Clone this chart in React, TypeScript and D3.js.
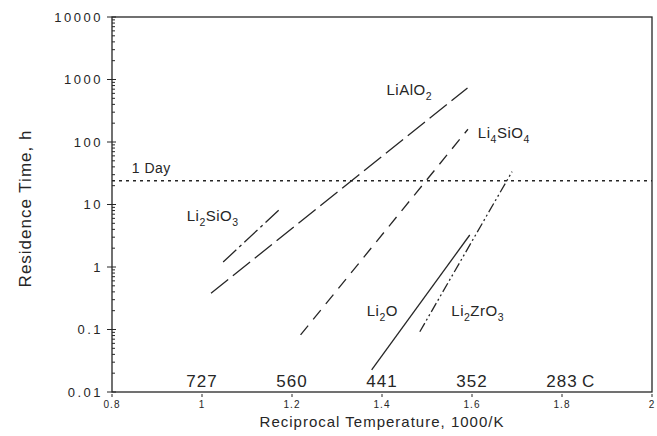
import * as d3 from "d3";

// residence time lines, [1000/K, hours]
const liAlO2 = [
  [1.02, 0.38],
  [1.59, 730],
];
const li2SiO3 = [
  [1.047, 1.2],
  [1.171, 8.2],
];
const li4SiO4 = [
  [1.219, 0.082],
  [1.591, 160],
];
const li2O = [
  [1.377, 0.0225],
  [1.595, 3.25],
];
const li2ZrO3 = [
  [1.484, 0.092],
  [1.689, 33.5],
];
const oneDay = 24;

const xTicks = [0.8, 1, 1.2, 1.4, 1.6, 1.8, 2];
const xTickLabels = ["0.8", "1", "1.2", "1.4", "1.6", "1.8", "2"];
const yTicks = [0.01, 0.1, 1, 10, 100, 1000, 10000];
const yTickLabels = ["0.01", "0.1", "1", "10", "100", "1000", "10000"];
const tempLabels = ["727", "560", "441", "352", "283"];
const tempPositions = [1.0, 1.2, 1.4, 1.6, 1.8];

const W = 657;
const H = 436;
const margin = { top: 17, right: 3, bottom: 44, left: 112 };
const ink = "#262626";
const font = "'Liberation Sans', Arial, sans-serif";

export default function App() {
  const x = d3
    .scaleLinear()
    .domain([0.8, 2])
    .range([margin.left, W - margin.right - 2]);
  const y = d3
    .scaleLog()
    .domain([0.01, 10000])
    .range([H - margin.bottom, margin.top]);

  const line = d3
    .line<number[]>()
    .x((d) => x(d[0]))
    .y((d) => y(d[1]));

  const series = [
    { data: liAlO2, dash: "22,6" },
    { data: li2SiO3, dash: "18,4,3,4" },
    { data: li4SiO4, dash: "12,8" },
    { data: li2O, dash: "none" },
    { data: li2ZrO3, dash: "10,3,2,3,2,3" },
  ];

  const minorTicks: number[] = [];
  for (let e = -2; e < 4; e++) {
    for (let m = 2; m <= 9; m++) minorTicks.push(m * Math.pow(10, e));
  }

  const x0 = x(0.8);
  const x1 = x(2);
  const yb = y(0.01);
  const yt = y(10000);

  // formula label: alternating normal / subscript pieces
  const chem = (parts: string[], px: number, py: number, size = 15) => {
    const spans = [];
    let shift = 0;
    parts.forEach((p, i) => {
      const sub = i % 2 === 1;
      const target = sub ? 5 : 0;
      spans.push(
        <tspan key={i} dy={target - shift} fontSize={sub ? size * 0.7 : size}>
          {p}
        </tspan>
      );
      shift = target;
    });
    return (
      <text x={px} y={py} fontSize={size} fill={ink} fontFamily={font} letterSpacing={0.5}>
        {spans}
      </text>
    );
  };

  return (
    <svg
      width={W}
      height={H}
      style={{ position: "absolute", left: 0, top: 0, background: "#fff" }}
    >
      {/* frame */}
      <rect
        x={x0}
        y={yt}
        width={x1 - x0}
        height={yb - yt}
        fill="none"
        stroke={ink}
        strokeWidth={1.3}
      />

      {/* y ticks */}
      {yTicks.map((t, i) => (
        <g key={t}>
          <line x1={x0 - 5} x2={x0 + 4} y1={y(t)} y2={y(t)} stroke={ink} strokeWidth={1} />
          <text
            x={x0 - 9}
            y={y(t)}
            dy="0.35em"
            textAnchor="end"
            fontSize={13}
            letterSpacing={2.5}
            fill={ink}
            fontFamily={font}
          >
            {yTickLabels[i]}
          </text>
        </g>
      ))}
      {minorTicks.map((t) => (
        <line key={t} x1={x0} x2={x0 + 3} y1={y(t)} y2={y(t)} stroke={ink} strokeWidth={1} />
      ))}

      {/* x ticks */}
      {xTicks.map((t, i) => (
        <g key={t}>
          <line x1={x(t)} x2={x(t)} y1={yb + 2} y2={yb + 5} stroke={ink} strokeWidth={1} />
          <text
            x={x(t)}
            y={yb + 16}
            textAnchor="middle"
            fontSize={10}
            letterSpacing={1}
            fill={ink}
            fontFamily={font}
          >
            {xTickLabels[i]}
          </text>
        </g>
      ))}

      {/* temperature labels */}
      {tempLabels.map((l, i) => (
        <text
          key={l}
          x={x(tempPositions[i])}
          y={y(0.012)}
          textAnchor="middle"
          fontSize={17}
          letterSpacing={1}
          fill={ink}
          fontFamily={font}
        >
          {l}
        </text>
      ))}
      <text x={x(1.8) + 20} y={y(0.012)} fontSize={17} fill={ink} fontFamily={font}>
        C
      </text>

      {/* 1 day line */}
      <line
        x1={x0}
        x2={x1}
        y1={y(oneDay)}
        y2={y(oneDay)}
        stroke={ink}
        strokeWidth={1.5}
        strokeDasharray="3,4"
      />
      <text x={x(0.844)} y={y(32)} fontSize={14} fill={ink} fontFamily={font} letterSpacing={0.5}>
        1 Day
      </text>

      {/* series */}
      {series.map((s, i) => (
        <path
          key={i}
          d={line(s.data) ?? ""}
          fill="none"
          stroke={ink}
          strokeWidth={1.3}
          strokeDasharray={s.dash}
        />
      ))}

      {chem(["LiAlO", "2"], x(1.41), y(565))}
      {chem(["Li", "4", "SiO", "4"], x(1.613), y(116))}
      {chem(["Li", "2", "SiO", "3"], x(0.966), y(5.4))}
      {chem(["Li", "2", "O"], x(1.366), y(0.164))}
      {chem(["Li", "2", "ZrO", "3"], x(1.554), y(0.164))}

      {/* axis titles */}
      <text
        x={(x0 + x1) / 2}
        y={H - 9}
        textAnchor="middle"
        fontSize={15}
        letterSpacing={1}
        fill={ink}
        fontFamily={font}
      >
        Reciprocal Temperature, 1000/K
      </text>
      <text
        transform={`translate(31, ${(yt + yb) / 2 + 4}) rotate(-90)`}
        textAnchor="middle"
        fontSize={17}
        letterSpacing={1}
        fill={ink}
        fontFamily={font}
      >
        Residence Time, h
      </text>
    </svg>
  );
}
